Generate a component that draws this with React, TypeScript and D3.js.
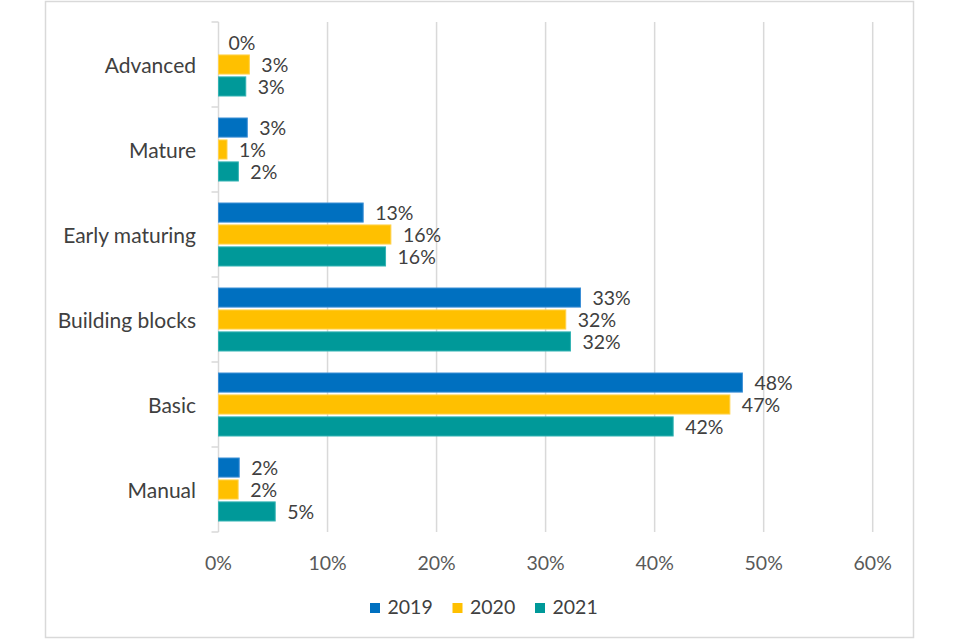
import { useEffect } from 'react';
import * as d3 from 'd3';

const categories = ['Advanced', 'Mature', 'Early maturing', 'Building blocks', 'Basic', 'Manual'];
const seriesNames = ['2019', '2020', '2021'];
const seriesColors = ['#0070C0', '#FFC000', '#009999'];
const seriesStrokes = ['#3d8fd6', '#ffd24d', '#33b3b3'];

const values2019 = [0, 2.64, 13.27, 33.2, 48.05, 1.9];
const values2020 = [2.83, 0.78, 15.81, 31.85, 46.9, 1.8];
const values2021 = [2.5, 1.82, 15.32, 32.28, 41.7, 5.2];

const labels2019 = ['0%', '3%', '13%', '33%', '48%', '2%'];
const labels2020 = ['3%', '1%', '16%', '32%', '47%', '2%'];
const labels2021 = ['3%', '2%', '16%', '32%', '42%', '5%'];

const xTicks = [0, 10, 20, 30, 40, 50, 60];

const seriesValues = [values2019, values2020, values2021];
const seriesLabels = [labels2019, labels2020, labels2021];

const FONT = 'Lato, Carlito, "Open Sans", sans-serif';

export default function App() {
  useEffect(() => {
    document.body.style.margin = '0';
  }, []);

  const width = 960;
  const height = 640;
  const plot = { left: 218.5, right: 872.7, top: 22, bottom: 532 };

  const x = d3.scaleLinear().domain([0, 60]).range([plot.left, plot.right]);
  const y = d3
    .scaleBand<string>()
    .domain(categories)
    .range([plot.top, plot.bottom]);
  const inner = d3
    .scaleBand<string>()
    .domain(seriesNames)
    .range([11, y.bandwidth() - 11])
    .paddingInner(0.13);

  return (
    <svg width={width} height={height} style={{ display: 'block' }} fontFamily={FONT}>
      <rect x={0} y={0} width={width} height={height} fill='#fff' />
      <rect x={45.5} y={1.5} width={868} height={636} fill='none' stroke='#d9d9d9' strokeWidth={1.5} />

      {/* vertical grid */}
      {xTicks.slice(1).map((t) => (
        <line key={t} x1={x(t)} x2={x(t)} y1={plot.top} y2={plot.bottom} stroke='#d9d9d9' strokeWidth={1.5} />
      ))}

      {/* category axis */}
      <line x1={plot.left} x2={plot.left} y1={plot.top} y2={plot.bottom} stroke='#d9d9d9' strokeWidth={1.5} />
      {d3.range(categories.length + 1).map((i) => (
        <line
          key={i}
          x1={plot.left - 7}
          x2={plot.left}
          y1={plot.top + i * y.bandwidth()}
          y2={plot.top + i * y.bandwidth()}
          stroke='#d9d9d9'
          strokeWidth={1.5}
        />
      ))}
      {categories.map((c) => (
        <text
          key={c}
          x={196}
          y={(y(c) ?? 0) + y.bandwidth() / 2}
          textAnchor='end'
          dominantBaseline='central'
          fontSize={21}
          fill='#404040'
        >
          {c}
        </text>
      ))}

      {/* bars */}
      {categories.map((c, ci) => (
        <g key={c}>
          {seriesNames.map((s, si) => {
            const v = seriesValues[si][ci];
            const by = (y(c) ?? 0) + (inner(s) ?? 0);
            const bw = x(v) - x(0);
            return (
              <g key={s}>
                {v > 0 && (
                  <rect
                    x={x(0)}
                    y={by}
                    width={bw}
                    height={inner.bandwidth()}
                    fill={seriesColors[si]}
                    stroke={seriesStrokes[si]}
                    strokeWidth={1}
                  />
                )}
                <text
                  x={x(v) + (v > 0 ? 12 : 10)}
                  y={by + inner.bandwidth() / 2}
                  dominantBaseline='central'
                  fontSize={19.5}
                  fill='#404040'
                >
                  {seriesLabels[si][ci]}
                </text>
              </g>
            );
          })}
        </g>
      ))}

      {/* x tick labels */}
      {xTicks.map((t) => (
        <text key={t} x={x(t)} y={570} textAnchor='middle' fontSize={19.5} fill='#595959'>
          {t}%
        </text>
      ))}

      {/* legend */}
      {seriesNames.map((s, i) => (
        <g key={s} transform={`translate(${370 + i * 82.5},603)`}>
          <rect x={0} y={0} width={10} height={10} fill={seriesColors[i]} />
          <text x={17.5} y={11} fontSize={19.5} fill='#404040'>
            {s}
          </text>
        </g>
      ))}
    </svg>
  );
}
